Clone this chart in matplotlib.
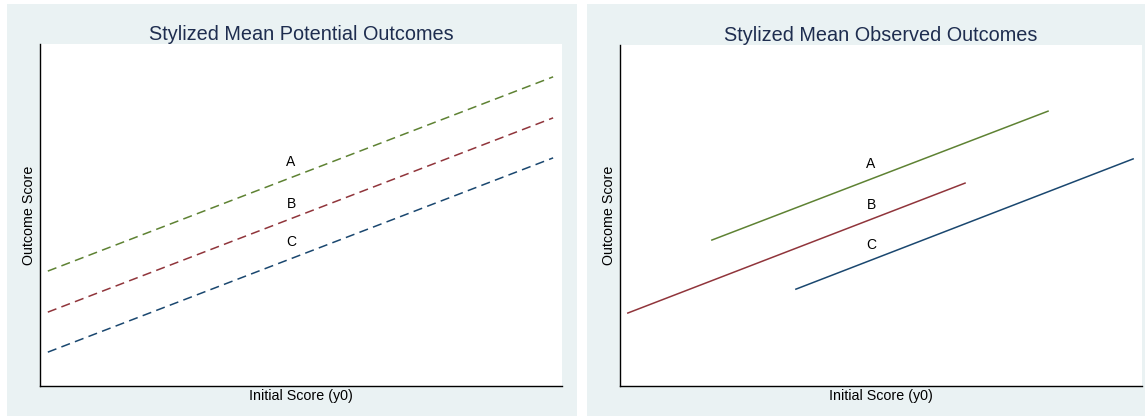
import matplotlib
matplotlib.use("Agg")
import matplotlib.pyplot as plt
from matplotlib.patches import Rectangle

plt.rcParams["font.family"] = ["Liberation Sans", "DejaVu Sans"]

# ── data (notional units, both axes 0..10) ───────────────────────────
groups = ["A", "B", "C"]
colors = ["#5E8233", "#90353B", "#1A476F"]

# potential outcomes: all groups over full range
pot_x = [[0.15, 9.83], [0.15, 9.83], [0.15, 9.83]]
pot_y = [[3.36, 9.04], [2.16, 7.84], [0.99, 6.67]]

# observed outcomes: each group over its own support
obs_x = [[1.76, 8.20], [0.15, 6.61], [3.37, 9.83]]
obs_y = [[4.28, 8.06], [2.14, 5.95], [2.84, 6.66]]

lab_x = [4.81, 4.81]
pot_lab_y = [6.55, 5.32, 4.21]
obs_lab_y = [6.51, 5.31, 4.13]

titles = ["Stylized Mean Potential Outcomes", "Stylized Mean Observed Outcomes"]

W, H = 1145, 416
BG = "#EAF2F3"
TITLE_CLR = "#1E2D4F"

fig = plt.figure(figsize=(W / 100, H / 100), dpi=100, facecolor="white")

def px_rect(x0, y0, x1, y1):
    # pixel box (top-left origin) -> figure fraction [l, b, w, h]
    return [x0 / W, 1 - y1 / H, (x1 - x0) / W, (y1 - y0) / H]

# panel backgrounds
for (x0, y0, x1, y1) in [(7, 4, 577, 416), (587, 4, 1145, 416)]:
    l, b, w, h = px_rect(x0, y0, x1, y1)
    fig.add_artist(Rectangle((l, b), w, h, transform=fig.transFigure,
                             facecolor=BG, edgecolor="none", zorder=0))

axes = [fig.add_axes(px_rect(40, 44, 562, 386)),
        fig.add_axes(px_rect(620, 45, 1142, 386))]

panels = [(pot_x, pot_y, pot_lab_y, "--"), (obs_x, obs_y, obs_lab_y, "-")]

for i, ax in enumerate(axes):
    xs, ys, lab_y, ls = panels[i]
    for xv, yv, c in zip(xs, ys, colors):
        if ls == "--":
            ax.plot(xv, yv, color=c, lw=1.1, ls=(0, (6, 3.5)))
        else:
            ax.plot(xv, yv, color=c, lw=1.1)
    for g, ly in zip(groups, lab_y):
        ax.text(lab_x[i], ly, g, ha="center", va="center", fontsize=10, color="black")

    ax.set_xlim(0, 10)
    ax.set_ylim(0, 10)
    ax.set_xticks([])
    ax.set_yticks([])
    ax.set_facecolor("white")
    for s in ["top", "right"]:
        ax.spines[s].set_visible(False)
    for s in ["left", "bottom"]:
        ax.spines[s].set_color("black")
        ax.spines[s].set_linewidth(1.0)
    ax.set_title(titles[i], fontsize=14.3, color=TITLE_CLR, pad=3)
    ax.set_xlabel("Initial Score (y0)", fontsize=10.3, labelpad=2)
    ax.set_ylabel("Outcome Score", fontsize=10.3, labelpad=3)

fig.savefig("out.png", dpi=100, facecolor="white")
plt.close()
